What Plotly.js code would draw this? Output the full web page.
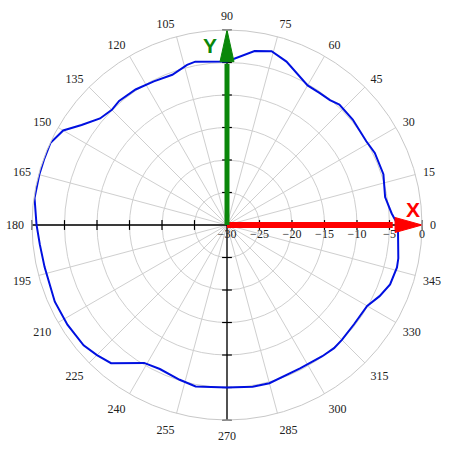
<!DOCTYPE html>
<html>
<head>
<meta charset="utf-8">
<script src="https://cdn.plot.ly/plotly-3.0.1.min.js"></script>
<style>html,body{margin:0;padding:0;background:#fff;}#chart{width:457px;height:455px;}</style>
</head>
<body>
<div id="chart"></div>
<script>
// Measured pattern (angle in degrees, level in dB)
const patternAngle = [0, 4, 10, 18, 26, 31, 40, 47, 50.5, 55, 60, 70, 75.6, 81, 90, 101, 104, 110, 117, 124, 131, 135, 140, 145.5, 150, 155, 160, 165, 172, 180, 186, 193, 204, 212, 220, 225, 230, 239, 245, 253, 259, 270, 279, 285, 297, 306, 311, 315, 322, 330, 335, 340, 346, 349, 360];
const patternDb = [-3.7, -4.6, -5.3, -4.7, -4.7, -5.0, -4.75, -4.65, -5.1, -5.2, -5.2, -3.25, -2.4, -2.9, -4.85, -4.4, -4.6, -5.4, -5.2, -4.85, -4.7, -4.95, -4.5, -2.85, -0.9, -0.05, -0.1, -0.1, -0.1, -0.7, -1.05, -1.2, -1.0, -1.05, -1.2, -1.7, -2.25, -5.25, -5.55, -5.1, -4.7, -5.0, -4.8, -4.8, -5.25, -5.05, -4.9, -5.0, -5.2, -5.1, -4.1, -3.3, -3.05, -3.15, -3.7];

const radialTicks = [-30, -25, -20, -15, -10, -5, 0];
const angleTicks = [0, 15, 30, 45, 60, 75, 90, 105, 120, 135, 150, 165, 180, 195, 210, 225, 240, 255, 270, 285, 300, 315, 330, 345];
const rMin = -30, rMax = 0;

const serif = 'Liberation Serif, Times New Roman, serif';
const traces = [];

// black axes through the centre
[[0,180],[90,270]].forEach(pair => {
  pair.forEach(a => traces.push({type:'scatterpolar', mode:'lines', r:[rMin, rMax], theta:[a, a],
    line:{color:'#000', width:1.3}, hoverinfo:'skip'}));
});
// tick marks on axes
const tickR = radialTicks.filter(v => v > rMin);
[[0,'line-ns'],[180,'line-ns'],[90,'line-ew'],[270,'line-ew']].forEach(([a, sym]) => {
  traces.push({type:'scatterpolar', mode:'markers', r:tickR, theta:tickR.map(() => a),
    marker:{symbol:sym, size:7, line:{color:'#000', width:1.2}}, hoverinfo:'skip'});
});

// pattern curve
traces.push({type:'scatterpolar', mode:'lines', r:patternDb, theta:patternAngle,
  line:{color:'#0010e0', width:2}, hoverinfo:'skip'});

// X arrow (red)
traces.push({type:'scatterpolar', mode:'lines', r:[rMin, -4.5], theta:[0, 0],
  line:{color:'#ff0000', width:6}, hoverinfo:'skip'});
traces.push({type:'scatterpolar', mode:'lines', r:[rMax, -4.12, -4.12, rMax], theta:[0, 2.56, -2.56, 0],
  fill:'toself', fillcolor:'#ff0000', line:{color:'#ff0000', width:1}, hoverinfo:'skip'});
// Y arrow (green)
traces.push({type:'scatterpolar', mode:'lines', r:[rMin, -5.2], theta:[90, 90],
  line:{color:'#0a870a', width:5}, hoverinfo:'skip'});
traces.push({type:'scatterpolar', mode:'lines', r:[rMax, -4.85, -4.85, rMax], theta:[90, 92.45, 87.55, 90],
  fill:'toself', fillcolor:'#0a870a', line:{color:'#0a870a', width:1}, hoverinfo:'skip'});

const layout = {
  width:457, height:455,
  margin:{l:32, r:35, t:30, b:35},
  paper_bgcolor:'#fff',
  showlegend:false,
  polar:{
    domain:{x:[0,1], y:[0,1]},
    bgcolor:'#fff',
    radialaxis:{
      range:[rMin, rMax], tickvals:radialTicks, ticktext:radialTicks.map(v => v === 0 ? '0' : '\u2212' + Math.abs(v)),
      angle:0, side:'clockwise', showline:false, ticks:'',
      gridcolor:'#cfcfcf', gridwidth:1,
      tickfont:{family:serif, size:12, color:'#222'}
    },
    angularaxis:{
      direction:'counterclockwise', rotation:0,
      tickvals:angleTicks, ticktext:angleTicks.map(String),
      ticks:'outside', ticklen:5, tickcolor:'rgba(0,0,0,0)',
      showline:true, linecolor:'#c8c8c8', linewidth:1,
      gridcolor:'#cfcfcf', gridwidth:1,
      tickfont:{family:serif, size:12, color:'#222'}
    }
  },
  annotations:[
    {xref:'paper', yref:'paper', x:(412.5-32)/390, y:(420-209)/390, text:'<b>X</b>', showarrow:false,
     xanchor:'center', yanchor:'middle', font:{family:'Liberation Sans, Arial, sans-serif', size:21, color:'#ff0000'}},
    {xref:'paper', yref:'paper', x:(210-32)/390, y:(420-45.5)/390, text:'<b>Y</b>', showarrow:false,
     xanchor:'center', yanchor:'middle', font:{family:'Liberation Sans, Arial, sans-serif', size:21, color:'#0a870a'}}
  ]
};

Plotly.newPlot('chart', traces, layout, {staticPlot:true, displayModeBar:false});
</script>
</body>
</html>
